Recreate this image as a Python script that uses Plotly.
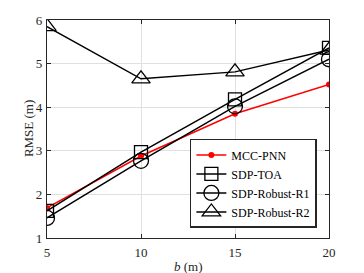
import plotly.graph_objects as go

b_vals = [5, 10, 15, 20]
mcc_pnn = [1.69, 2.88, 3.85, 4.52]
sdp_toa = [1.62, 2.97, 4.18, 5.36]
sdp_r1 = [1.46, 2.77, 4.02, 5.10]
sdp_r2 = [5.85, 4.65, 4.81, 5.31]

font = "Liberation Serif"
fig = go.Figure()
fig.add_trace(go.Scatter(x=b_vals, y=mcc_pnn, name="MCC-PNN", mode="lines+markers",
                         line=dict(color="red", width=1.5), marker=dict(symbol="circle", size=6, color="red")))
fig.add_trace(go.Scatter(x=b_vals, y=sdp_toa, name="SDP-TOA", mode="lines+markers",
                         line=dict(color="black", width=1.5),
                         marker=dict(symbol="square-open", size=13, color="black", line=dict(width=1.3))))
fig.add_trace(go.Scatter(x=b_vals, y=sdp_r1, name="SDP-Robust-R1", mode="lines+markers",
                         line=dict(color="black", width=1.5),
                         marker=dict(symbol="circle-open", size=15, color="black", line=dict(width=1.3))))
fig.add_trace(go.Scatter(x=b_vals, y=sdp_r2, name="SDP-Robust-R2", mode="lines+markers",
                         line=dict(color="black", width=1.5),
                         marker=dict(symbol="triangle-up-open", size=16, color="black", line=dict(width=1.3))))

axis_common = dict(showline=True, linecolor="#262626", linewidth=1.2, mirror="ticks", ticks="inside",
                   ticklen=4, tickcolor="#262626", showgrid=True, gridcolor="#e0e0e0", gridwidth=1,
                   zeroline=False, automargin=False, tickfont=dict(family=font, size=13, color="#262626"))
fig.update_xaxes(range=[5, 20], tickvals=[5, 10, 15, 20], ticklabelstandoff=2, **axis_common)
fig.update_yaxes(range=[1, 6], tickvals=[1, 2, 3, 4, 5, 6], ticklabelstandoff=1, **axis_common)
fig.add_annotation(text="<i>b</i> (m)", xref="paper", yref="paper", x=0.5, y=-0.133,
                   xanchor="center", yanchor="middle", showarrow=False,
                   font=dict(family=font, size=13, color="#262626"))
fig.add_annotation(text="RMSE (m)", xref="paper", yref="paper", x=-0.067, y=0.5, textangle=-90,
                   xanchor="center", yanchor="middle", showarrow=False,
                   font=dict(family=font, size=13, color="#262626"))
fig.update_layout(width=364, height=273, margin=dict(l=39, r=43, t=12, b=43),
                  plot_bgcolor="white", paper_bgcolor="white",
                  font=dict(family=font, size=13, color="black"),
                  legend=dict(x=0.957, y=0.046, xanchor="right", yanchor="bottom",
                              bordercolor="#262626", borderwidth=1.5, bgcolor="white",
                              font=dict(family=font, size=12), tracegroupgap=0, itemwidth=30))
fig.write_html("out.html")
